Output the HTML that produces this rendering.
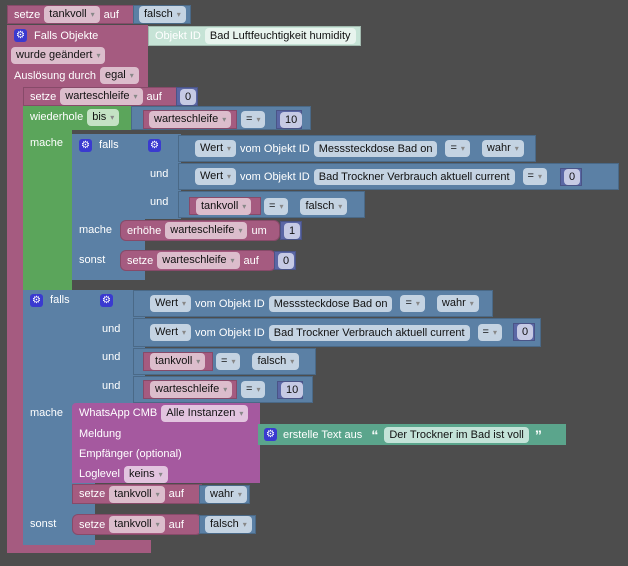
<!DOCTYPE html>
<html><head><meta charset="utf-8"><style>
body{margin:0;width:628px;height:566px;background:#4d4d4d;overflow:hidden;position:relative;font-family:"Liberation Sans",sans-serif}
.b{position:absolute;box-sizing:border-box;display:flex;align-items:center;gap:4px;padding:0 6px;font-size:11px;color:#fff;white-space:nowrap;border:1px solid rgba(0,0,0,.18)}
.pk{background:#a55b80}.bl{background:#5b80a5}.gr{background:#5ba55b}.dk{background:#5b67a5}.pu{background:#a5599f}.tx{background:#5ba58c}.ob{background:#c6e3d6}
.f{color:#111;border-radius:4px;padding:1px 5px;line-height:14px}
.pk .f{background:#dcbdcc}.bl .f{background:#c4d3e2}.gr .f{background:#c4e2c4}.dk .f{background:#c6cae4}.pu .f{background:#e2c4df}.tx .f{background:#c4e3d8}.ob .f{background:#e8f4ee}
.f i{font-style:normal;color:#888;font-size:8px;margin-left:4px}
.g{display:inline-block;width:13px;height:13px;background:#3a3ad0;border-radius:3px;color:#fff;font-size:10px;line-height:13px;text-align:center}
.r{position:absolute;box-sizing:border-box}
</style></head><body>
<!-- top setze -->
<div class="b pk" style="left:7px;top:5px;width:130px;height:19px">setze<span class="f">tankvoll<i>▾</i></span>auf</div>
<div class="b bl" style="left:133px;top:5px;width:58px;height:19px;padding-left:5px"><span class="f">falsch<i>▾</i></span></div>
<!-- Falls Objekte -->
<div class="r pk" style="left:7px;top:25px;width:141px;height:62px"></div>
<div class="r pk" style="left:7px;top:86px;width:17px;height:458px"></div>
<div class="r pk" style="left:7px;top:540px;width:144px;height:13px"></div>
<div class="b" style="left:8px;top:26px;height:19px;border:0"><span class="g">⚙</span>&nbsp;Falls Objekte</div>
<div class="b pk" style="left:8px;top:46px;height:19px;border:0;padding-left:3px"><span class="f">wurde geändert<i>▾</i></span></div>
<div class="b" style="left:8px;top:66px;height:19px;border:0">Auslösung durch<span class="f" style="background:#dcbdcc">egal<i>▾</i></span></div>
<div class="b ob" style="left:148px;top:26px;width:213px;height:20px;color:#fff">Objekt ID<span class="f">Bad Luftfeuchtigkeit humidity</span></div>
<!-- setze warteschleife -->
<div class="b pk" style="left:23px;top:87px;width:157px;height:19px">setze<span class="f">warteschleife<i>▾</i></span>auf</div>
<div class="b dk" style="left:176px;top:87px;width:22px;height:19px;padding:0 3px"><span class="f">0</span></div>
<!-- wiederhole -->
<div class="r gr" style="left:23px;top:106px;width:110px;height:24px"></div>
<div class="r gr" style="left:23px;top:129px;width:49px;height:162px"></div>
<div class="b" style="left:24px;top:107px;height:20px;border:0">wiederhole<span class="f" style="background:#c4e2c4">bis<i>▾</i></span></div>
<div class="b" style="left:24px;top:134px;height:18px;border:0">mache</div>
<div class="b bl" style="left:131px;top:106px;width:180px;height:24px;padding-left:12px"></div>
<div class="b pk" style="left:143px;top:110px;width:94px;height:19px;padding-left:5px"><span class="f">warteschleife<i>▾</i></span></div>
<div class="b bl" style="left:238px;top:110px;width:40px;height:19px;border:0;padding-left:3px"><span class="f">=<i>▾</i></span></div>
<div class="b dk" style="left:276px;top:110px;width:26px;height:19px;padding:0 3px"><span class="f">10</span></div>
<!-- inner falls -->
<div class="r bl" style="left:72px;top:134px;width:73px;height:146px"></div>
<div class="b" style="left:73px;top:136px;height:18px;border:0"><span class="g">⚙</span>&nbsp;falls</div>
<div class="r bl" style="left:143px;top:134px;width:38px;height:85px"></div>
<div class="b" style="left:148px;top:136px;height:18px;border:0;padding:0"><span class="g">⚙</span></div>
<div class="b" style="left:144px;top:165px;height:18px;border:0">und</div>
<div class="b" style="left:144px;top:193px;height:18px;border:0">und</div>
<div class="b bl" style="left:178px;top:135px;width:358px;height:27px;padding-left:16px"><span class="f">Wert<i>▾</i></span>vom Objekt ID<span class="f">Messsteckdose Bad on</span><span class="f" style="margin-left:4px">=<i>▾</i></span><span class="f" style="margin-left:8px">wahr<i>▾</i></span></div>
<div class="b bl" style="left:178px;top:163px;width:441px;height:27px;padding-left:16px"><span class="f">Wert<i>▾</i></span>vom Objekt ID<span class="f">Bad Trockner Verbrauch aktuell current</span><span class="f" style="margin-left:4px">=<i>▾</i></span></div>
<div class="b dk" style="left:560px;top:168px;width:22px;height:18px;padding:0 3px"><span class="f">0</span></div>
<div class="b bl" style="left:178px;top:191px;width:187px;height:27px;padding-left:6px"></div>
<div class="b pk" style="left:189px;top:197px;width:72px;height:18px;padding-left:6px"><span class="f">tankvoll<i>▾</i></span></div>
<div class="b" style="left:262px;top:197px;height:18px;border:0;padding:0 0 0 2px"><span class="f" style="background:#c4d3e2">=<i>▾</i></span><span class="f" style="background:#c4d3e2;margin-left:8px">falsch<i>▾</i></span></div>
<div class="b" style="left:73px;top:221px;height:18px;border:0">mache</div>
<div class="b pk" style="left:120px;top:220px;width:160px;height:21px;border-radius:6px">erhöhe<span class="f">warteschleife<i>▾</i></span>um</div>
<div class="b dk" style="left:280px;top:221px;width:22px;height:19px;padding:0 3px"><span class="f">1</span></div>
<div class="b" style="left:73px;top:251px;height:18px;border:0">sonst</div>
<div class="b pk" style="left:120px;top:250px;width:156px;height:21px;border-radius:6px">setze<span class="f">warteschleife<i>▾</i></span>auf</div>
<div class="b dk" style="left:274px;top:251px;width:22px;height:19px;padding:0 3px"><span class="f">0</span></div>
<!-- second falls -->
<div class="r bl" style="left:23px;top:290px;width:72px;height:255px"></div>
<div class="r bl" style="left:95px;top:290px;width:50px;height:113px"></div>
<div class="b" style="left:24px;top:291px;height:18px;border:0"><span class="g">⚙</span>&nbsp;falls</div>
<div class="b" style="left:100px;top:291px;height:18px;border:0;padding:0"><span class="g">⚙</span></div>
<div class="b" style="left:96px;top:320px;height:18px;border:0">und</div>
<div class="b" style="left:96px;top:348px;height:18px;border:0">und</div>
<div class="b" style="left:96px;top:377px;height:18px;border:0">und</div>
<div class="b bl" style="left:133px;top:290px;width:360px;height:27px;padding-left:16px"><span class="f">Wert<i>▾</i></span>vom Objekt ID<span class="f">Messsteckdose Bad on</span><span class="f" style="margin-left:4px">=<i>▾</i></span><span class="f" style="margin-left:8px">wahr<i>▾</i></span></div>
<div class="b bl" style="left:133px;top:318px;width:408px;height:29px;padding-left:16px"><span class="f">Wert<i>▾</i></span>vom Objekt ID<span class="f">Bad Trockner Verbrauch aktuell current</span><span class="f" style="margin-left:4px">=<i>▾</i></span></div>
<div class="b dk" style="left:513px;top:323px;width:22px;height:18px;padding:0 3px"><span class="f">0</span></div>
<div class="b bl" style="left:133px;top:348px;width:183px;height:27px"></div>
<div class="b pk" style="left:143px;top:352px;width:70px;height:19px;padding-left:6px"><span class="f">tankvoll<i>▾</i></span></div>
<div class="b" style="left:214px;top:352px;height:19px;border:0;padding:0 0 0 2px"><span class="f" style="background:#c4d3e2">=<i>▾</i></span><span class="f" style="background:#c4d3e2;margin-left:8px">falsch<i>▾</i></span></div>
<div class="b bl" style="left:133px;top:376px;width:180px;height:27px"></div>
<div class="b pk" style="left:143px;top:380px;width:94px;height:19px;padding-left:6px"><span class="f">warteschleife<i>▾</i></span></div>
<div class="b" style="left:239px;top:380px;height:19px;border:0;padding:0 0 0 2px"><span class="f" style="background:#c4d3e2">=<i>▾</i></span></div>
<div class="b dk" style="left:277px;top:381px;width:26px;height:18px;padding:0 3px"><span class="f">10</span></div>
<div class="b" style="left:24px;top:404px;height:18px;border:0">mache</div>
<div class="r pu" style="left:72px;top:403px;width:188px;height:80px;border-radius:4px 0 0 0"></div>
<div class="b" style="left:73px;top:404px;height:18px;border:0">WhatsApp CMB<span class="f" style="background:#e2c4df">Alle Instanzen<i>▾</i></span></div>
<div class="b" style="left:73px;top:425px;height:18px;border:0">Meldung</div>
<div class="b" style="left:73px;top:445px;height:18px;border:0">Empfänger (optional)</div>
<div class="b" style="left:73px;top:465px;height:18px;border:0">Loglevel<span class="f" style="background:#e2c4df">keins<i>▾</i></span></div>
<div class="b tx" style="left:258px;top:424px;width:308px;height:21px;border:0;gap:6px"><span class="g">⚙</span>erstelle Text aus&nbsp;<b style="font-size:14px">“</b><span class="f">Der Trockner im Bad ist voll</span><b style="font-size:14px">”</b></div>
<div class="b pk" style="left:72px;top:484px;width:130px;height:20px">setze<span class="f">tankvoll<i>▾</i></span>auf</div>
<div class="b bl" style="left:199px;top:485px;width:51px;height:19px;padding-left:5px"><span class="f">wahr<i>▾</i></span></div>
<div class="b" style="left:24px;top:515px;height:18px;border:0">sonst</div>
<div class="b pk" style="left:72px;top:514px;width:130px;height:21px;border-radius:6px">setze<span class="f">tankvoll<i>▾</i></span>auf</div>
<div class="b bl" style="left:199px;top:515px;width:57px;height:19px;padding-left:5px"><span class="f">falsch<i>▾</i></span></div>
</body></html>
